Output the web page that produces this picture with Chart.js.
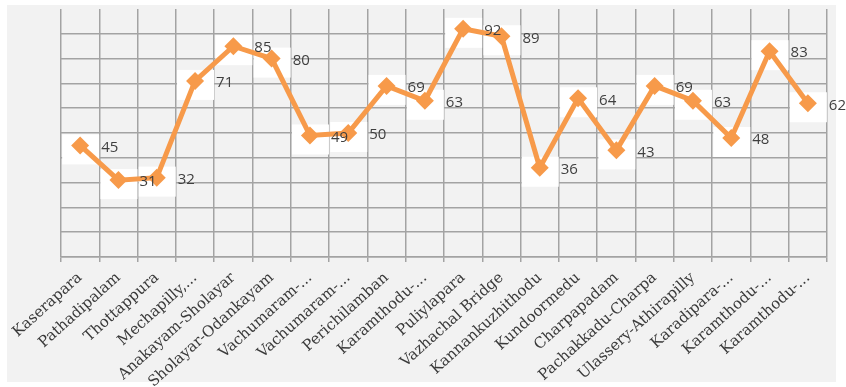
<!DOCTYPE html>
<html>
<head>
<meta charset="utf-8">
<script src="https://cdn.jsdelivr.net/npm/chart.js@4"></script>
<style>
  html, body { margin: 0; padding: 0; background: #ffffff; }
  #wrap { width: 846px; height: 387px; }
</style>
</head>
<body>
<div id="wrap"><canvas id="stationChart" width="846" height="387"></canvas></div>
<script>
// Stations along the route and their readings
const stations = [
    'Kaserapara', 'Pathadipalam', 'Thottappura', 'Mechapilly,...', 'Anakayam-Sholayar',
    'Sholayar-Odankayam', 'Vachumaram-...', 'Vachumaram-...', 'Perichilamban', 'Karamthodu-...',
    'Puliylapara', 'Vazhachal Bridge', 'Kannankuzhithodu', 'Kundoormedu', 'Charpapadam',
    'Pachakkadu-Charpa', 'Ulassery-Athirapilly', 'Karadipara-...', 'Karamthodu-...', 'Karamthodu-...'
];
const readings = [45, 31, 32, 71, 85, 80, 49, 50, 69, 63, 92, 89, 36, 64, 43, 69, 63, 48, 83, 62];
const yMin = 0;
const yMax = 100;
const yStep = 10;

const ORANGE = '#F79A4A';
const GRID = '#a3a3a3';

// light grey panel behind the plot
const panelBg = {
    id: 'panelBg',
    beforeDraw(chart) {
        const ctx = chart.ctx;
        ctx.save();
        ctx.fillStyle = '#f2f2f2';
        ctx.fillRect(7, 5, 829, 377);
        ctx.restore();
    }
};

// white patches behind each marker, then the value to the right of it
const pointLabels = {
    id: 'pointLabels',
    beforeDatasetsDraw(chart) {
        const ctx = chart.ctx;
        const meta = chart.getDatasetMeta(0);
        ctx.save();
        ctx.fillStyle = '#ffffff';
        meta.data.forEach(pt => {
            ctx.fillRect(pt.x - 18, pt.y - 11, 37, 30);
        });
        ctx.restore();
    },
    afterDatasetsDraw(chart) {
        const ctx = chart.ctx;
        const meta = chart.getDatasetMeta(0);
        ctx.save();
        ctx.font = '15px "Open Sans", "Liberation Sans", sans-serif';
        ctx.fillStyle = '#3f3f3f';
        ctx.textBaseline = 'middle';
        ctx.textAlign = 'left';
        meta.data.forEach((pt, i) => {
            ctx.fillText(String(readings[i]), pt.x + 21, pt.y + 2);
        });
        ctx.restore();
    }
};

new Chart(document.getElementById('stationChart'), {
    type: 'line',
    data: {
        labels: stations,
        datasets: [{
            data: readings,
            borderColor: ORANGE,
            backgroundColor: ORANGE,
            borderWidth: 5,
            pointStyle: 'rectRot',
            pointRadius: 9,
            pointBorderWidth: 0,
            pointBackgroundColor: ORANGE,
            tension: 0,
            fill: false
        }]
    },
    options: {
        responsive: false,
        animation: false,
        layout: { padding: { left: 0, right: 19, top: 5, bottom: 0 } },
        plugins: {
            legend: { display: false },
            tooltip: { enabled: false }
        },
        scales: {
            x: {
                offset: true,
                grid: {
                    offset: true,
                    color: GRID,
                    lineWidth: 1.5,
                    tickLength: 5
                },
                border: { color: GRID, width: 1.5 },
                ticks: {
                    autoSkip: false,
                    minRotation: 42,
                    maxRotation: 42,
                    padding: 7,
                    color: '#3a3a3a',
                    font: { family: '"DejaVu Serif", serif', size: 15 }
                },
                afterFit(scale) { scale.height = 130; }
            },
            y: {
                min: yMin,
                max: yMax,
                ticks: { display: false, stepSize: yStep },
                grid: {
                    drawTicks: false,
                    lineWidth: 1.5,
                    color: ctx => (ctx.tick && ctx.tick.value === yMax) ? 'rgba(0,0,0,0)' : GRID
                },
                border: { display: false },
                afterFit(scale) { scale.width = 61; }
            }
        }
    },
    plugins: [panelBg, pointLabels]
});
</script>
</body>
</html>
